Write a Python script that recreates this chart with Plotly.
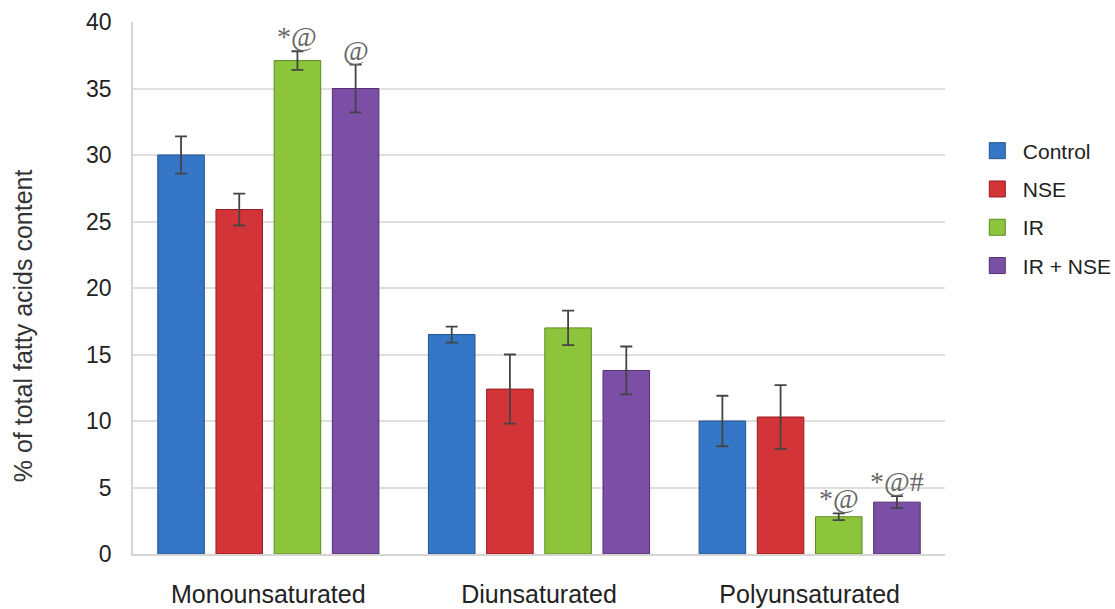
import plotly.graph_objects as go

categories = ["Monounsaturated", "Diunsaturated", "Polyunsaturated"]
groups = ["Control", "NSE", "IR", "IR + NSE"]
control = [30.0, 16.5, 10.0]
nse = [25.9, 12.4, 10.3]
ir = [37.1, 17.0, 2.8]
ir_nse = [35.0, 13.8, 3.9]
control_err = [1.4, 0.6, 1.9]
nse_err = [1.2, 2.6, 2.4]
ir_err = [0.7, 1.3, 0.25]
ir_nse_err = [1.8, 1.8, 0.45]
sig_ir = ["*@", "", "*@"]
sig_ir_nse = ["@", "", "*@#"]
y_title = "% of total fatty acids content"

colors = ["#3577c6", "#d33437", "#8cc43c", "#7b4fa5"]
edges = ["#22538f", "#951d20", "#5f8a22", "#53306f"]
values = [control, nse, ir, ir_nse]
errors = [control_err, nse_err, ir_err, ir_nse_err]

bargap = 0.14
bargroupgap = 0.2

fig = go.Figure()
for i, (g, v, e) in enumerate(zip(groups, values, errors)):
    fig.add_trace(go.Bar(
        name=g, x=categories, y=v,
        marker=dict(color=colors[i], line=dict(color=edges[i], width=1)),
        error_y=dict(type="data", array=e, visible=True, color="#444444",
                     thickness=1.8, width=6),
        showlegend=False,
    ))
# legend entries with larger square swatches
for i, g in enumerate(groups):
    fig.add_trace(go.Scatter(
        name=g, x=[None], y=[None], mode="markers",
        marker=dict(symbol="square", size=20, color=colors[i],
                    line=dict(color=edges[i], width=1)),
        legendgroup=g, showlegend=True,
    ))

# significance labels above error bars
slot = (1 - bargap) / 4
for ti, (labels, v, e) in enumerate([(sig_ir, ir, ir_err), (sig_ir_nse, ir_nse, ir_nse_err)]):
    trace_idx = 2 + ti
    for ci, lab in enumerate(labels):
        if not lab:
            continue
        xc = ci - (1 - bargap) / 2 + slot * (trace_idx + 0.5)
        fig.add_annotation(x=xc, y=v[ci] + e[ci], xref="x", yref="y",
                           text=lab, showarrow=False, yanchor="bottom", yshift=-3,
                           font=dict(family="Liberation Serif, Times New Roman, serif",
                                     size=28, color="#666666"))

# y-axis title (placed as in the reference, slightly below the axis centre)
fig.add_annotation(x=-0.1355, y=0.43, xref="paper", yref="paper", text=y_title,
                   textangle=-90, showarrow=False, xanchor="center", yanchor="middle",
                   font=dict(size=25, color="#333333"))

fig.update_layout(
    width=1115, height=609,
    paper_bgcolor="white", plot_bgcolor="white",
    margin=dict(l=133, r=170, t=22, b=55, autoexpand=False),
    barmode="group", bargap=bargap, bargroupgap=bargroupgap,
    font=dict(family="Liberation Sans, Arial, sans-serif", color="#222222"),
    legend=dict(x=1.033, y=0.796, xanchor="left", yanchor="top",
                font=dict(size=21, color="#222222"),
                traceorder="grouped", tracegroupgap=8, itemwidth=41),
    showlegend=True,
)
fig.update_xaxes(type="category", showgrid=False, showline=True, linecolor="#d9d4d4",
                 linewidth=1.5, ticks="", tickfont=dict(size=25, color="#222222"),
                 ticklabelstandoff=17, range=[-0.5, 2.5], automargin=False)
fig.update_yaxes(range=[0, 40], dtick=5, showgrid=True, gridcolor="#e3dede", gridwidth=1.5,
                 showline=True, linecolor="#d9d4d4", linewidth=1.5, ticks="",
                 tickfont=dict(size=23, color="#222222"), ticklabelstandoff=15,
                 zeroline=False, automargin=False)

fig.write_html("out.html", config={"displayModeBar": False},
               post_script="document.body.style.margin='0';document.body.style.overflow='hidden';")
